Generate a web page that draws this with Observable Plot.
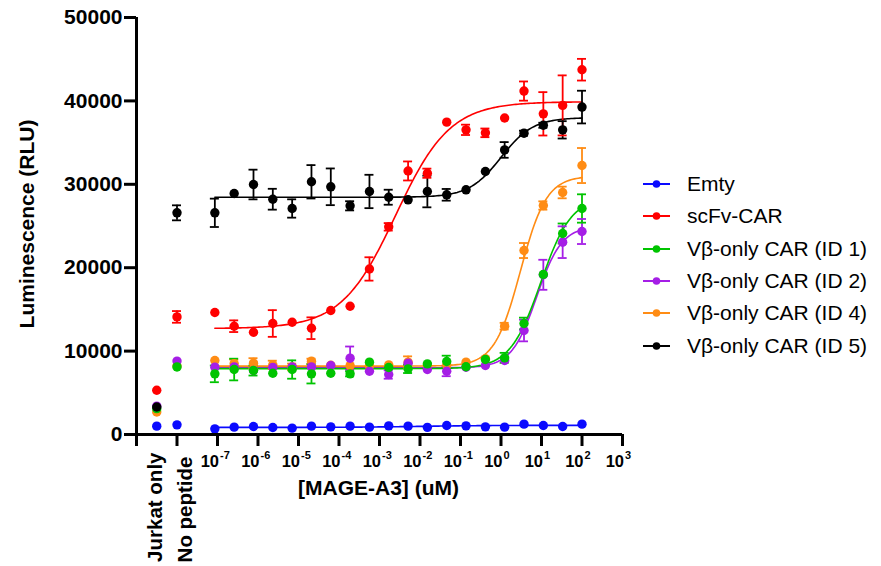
<!DOCTYPE html>
<html><head><meta charset="utf-8">
<script src="https://cdn.jsdelivr.net/npm/d3@7"></script>
<script src="https://cdn.jsdelivr.net/npm/@observablehq/plot@0.6"></script>
<style>
body{margin:0;background:#fff;}
#wrap{position:relative;width:881px;height:566px;font-family:"Liberation Sans",Arial,sans-serif;}
#legend{position:absolute;left:640px;top:168px;font-size:21px;color:#000;}
#legend .row{height:32.3px;display:flex;align-items:center;}
#legend svg{margin-right:14px;}
</style></head><body><div id="wrap"><div id="legend"></div></div>
<script>
// ---- data ----
const seriesNames = ["Emty", "scFv-CAR", "V\u03b2-only CAR (ID 1)", "V\u03b2-only CAR (ID 2)", "V\u03b2-only CAR (ID 4)", "V\u03b2-only CAR (ID 5)"];
const seriesColors = ["#0a0aff", "#ff0000", "#00c400", "#a51ee6", "#ff8c14", "#000000"];
// MAGE-A3 concentrations (uM), 3-fold dilution series, ascending
const conc = [8.6e-8, 2.58e-7, 7.74e-7, 2.32e-6, 6.97e-6, 2.09e-5, 6.27e-5, 1.88e-4, 5.65e-4, 1.69e-3, 5.08e-3, 0.0152, 0.0457, 0.137, 0.412, 1.23, 3.70, 11.1, 33.3, 100];
const emty    = [680, 880, 960, 840, 760, 1000, 920, 1000, 880, 1040, 1000, 860, 1080, 1040, 920, 880, 1240, 1080, 960, 1240];
const emtyErr = [0,0,0,0,0,0,0,0,0,0,0,0,0,0,0,0,0,0,0,0];
const scfv    = [14630, 12985, 12266, 13310, 13465, 12745, 14870, 15380, 19850, 24900, 31600, 31330, 37450, 36530, 36170, 37950, 41180, 38450, 39460, 43740];
const scfvErr = [0, 700, 0, 1600, 0, 1300, 0, 0, 1400, 450, 1140, 550, 0, 620, 520, 0, 1150, 2600, 3600, 1300];
const id1     = [7270, 7790, 7670, 7350, 7790, 7270, 7350, 7270, 8670, 8030, 7870, 8470, 8750, 8120, 8990, 9190, 13310, 19180, 24100, 27100];
const id1Err  = [1000, 1300, 600, 0, 1100, 1150, 0, 300, 0, 0, 500, 0, 700, 0, 0, 600, 700, 0, 1200, 1700];
const id2     = [8070, 8100, 7670, 8050, 8100, 8100, 8270, 9150, 7590, 7190, 8550, 7790, 7590, 8070, 8270, 8870, 12470, 19150, 23060, 24340];
const id2Err  = [0, 0, 0, 0, 0, 0, 0, 1400, 0, 500, 0, 0, 600, 0, 0, 0, 1300, 1800, 1900, 1500];
const id4     = [8870, 8500, 8550, 8350, 8100, 8790, 8300, 8250, 8200, 8350, 8670, 8300, 8300, 8670, 9100, 12990, 22060, 27460, 29020, 32250];
const id4Err  = [0, 500, 600, 500, 400, 300, 0, 0, 0, 0, 700, 0, 0, 0, 0, 400, 900, 500, 700, 2100];
const id5     = [26580, 28900, 29975, 28210, 27100, 30300, 29700, 27420, 29140, 28450, 28140, 29140, 28740, 29340, 31530, 34120, 36130, 37080, 36530, 39260];
const id5Err  = [1700, 0, 1780, 1250, 1100, 2000, 2200, 550, 2000, 900, 0, 1900, 700, 0, 0, 940, 300, 300, 1040, 1960];
// control columns: Jurkat only, No peptide (series order as seriesNames)
const controlLabels = ["Jurkat only", "No peptide"];
const jurkatOnly    = [1000, 5300, 3100, 3400, 2700, 3300];
const jurkatOnlyErr = [0, 0, 0, 0, 0, 0];
const noPeptide     = [1160, 14100, 8100, 8800, 8200, 26580];
const noPeptideErr  = [0, 700, 0, 0, 0, 900];
// 4-parameter logistic fit parameters (series order as seriesNames)
const fitBottom = [850, 12700, 7900, 8000, 8200, 28450];
const fitTop    = [1100, 39900, 28500, 25000, 31000, 38000];
const fitLogEC50 = [-2.0, -2.6, 0.98, 0.88, 0.48, 0.0];
const fitHill   = [0.5, 0.65, 1.15, 1.4, 1.35, 1.1];
const yTicks = [0, 10000, 20000, 30000, 40000, 50000];
const xTickExps = [-7, -6, -5, -4, -3, -2, -1, 0, 1, 2, 3];
const yLabel = "Luminescence (RLU)";
const xLabel = "[MAGE-A3] (uM)";

// ---- build ----
const values = [emty, scfv, id1, id2, id4, id5];
const errs = [emtyErr, scfvErr, id1Err, id2Err, id4Err, id5Err];
const controlPos = [-8.5, -8];
const drawOrder = [0, 1, 4, 3, 2, 5];
const rows = [];
for (const s of drawOrder) {
  rows.push({s: seriesNames[s], x: controlPos[0], y: jurkatOnly[s], e: jurkatOnlyErr[s]});
  rows.push({s: seriesNames[s], x: controlPos[1], y: noPeptide[s], e: noPeptideErr[s]});
  conc.forEach((c, i) => rows.push({s: seriesNames[s], x: Math.log10(c), y: values[s][i], e: errs[s][i]}));
}
const errRows = rows.filter(d => d.e > 0);
const curveRows = [];
const lo = Math.log10(conc[0]), hi = Math.log10(conc[conc.length - 1]);
for (const s of drawOrder) {
  for (let k = 0; k <= 200; k++) {
    const lx = lo + (hi - lo) * k / 200;
    const yv = fitBottom[s] + (fitTop[s] - fitBottom[s]) / (1 + Math.pow(10, (fitLogEC50[s] - lx) * fitHill[s]));
    curveRows.push({s: seriesNames[s], x: lx, y: yv});
  }
}
const cap = 4.5 / 40.5;
const font = "Liberation Sans, Arial, sans-serif";

const chart = Plot.plot({
  width: 881, height: 566,
  marginLeft: 136, marginRight: 259, marginTop: 17, marginBottom: 132,
  style: {fontFamily: font, background: "white", overflow: "visible"},
  x: {domain: [-9, 3], axis: null},
  y: {domain: [0, 50000], axis: null},
  color: {domain: seriesNames, range: seriesColors},
  marks: [
    Plot.line(curveRows, {x: "x", y: "y", z: "s", stroke: "s", strokeWidth: 1.6}),
    Plot.ruleX(errRows, {x: "x", y1: d => d.y - d.e, y2: d => d.y + d.e, stroke: "s", strokeWidth: 1.8}),
    Plot.ruleY(errRows, {y: d => d.y - d.e, x1: d => d.x - cap, x2: d => d.x + cap, stroke: "s", strokeWidth: 1.8}),
    Plot.ruleY(errRows, {y: d => d.y + d.e, x1: d => d.x - cap, x2: d => d.x + cap, stroke: "s", strokeWidth: 1.8}),
    Plot.dot(rows, {x: "x", y: "y", r: 4.7, fill: "s"}),
    // axes
    Plot.axisY({ticks: yTicks, tickSize: 12, tickPadding: 2, strokeWidth: 3, tickFormat: d3.format("d"), fontSize: 21, fontWeight: "bold", label: null}),
    Plot.axisX({ticks: [-9, -8, ...xTickExps], tickSize: 12, strokeWidth: 3, tickFormat: () => "", label: null}),
    Plot.ruleX([-9], {y1: 0, y2: 50000, strokeWidth: 3}),
    Plot.ruleY([0], {x1: -9, x2: 3, strokeWidth: 3}),
    Plot.text(xTickExps, {x: d => d, y: 0, text: () => "10", dy: 27, dx: 1.5, textAnchor: "end", fontSize: 16.5, fontWeight: "bold"}),
    Plot.text(xTickExps, {x: d => d, y: 0, text: d => String(d), dy: 21, dx: 2.5, textAnchor: "start", fontSize: 11, fontWeight: "bold"}),
    Plot.text([controlLabels[0]], {x: controlPos[0], y: 0, text: d => d, rotate: -90, textAnchor: "end", dy: 18, dx: -1, fontSize: 20.5, fontWeight: "bold"}),
    Plot.text([controlLabels[1]], {x: controlPos[1], y: 0, text: d => d, rotate: -90, textAnchor: "end", dy: 22, dx: 8, fontSize: 20.5, fontWeight: "bold"}),
    Plot.text([xLabel], {frameAnchor: "bottom", text: d => d, dy: 60, dx: -1, fontSize: 21, fontWeight: "bold"}),
    Plot.text([yLabel], {frameAnchor: "left", text: d => d, rotate: -90, textAnchor: "middle", dx: -109, dy: -2, fontSize: 21, fontWeight: "bold"})
  ]
});
document.getElementById("wrap").prepend(chart);

// legend
const leg = d3.select("#legend");
seriesNames.forEach((n, i) => {
  const row = leg.append("div").attr("class", "row");
  const sv = row.append("svg").attr("width", 33).attr("height", 12);
  sv.append("line").attr("x1", 3).attr("x2", 30).attr("y1", 6).attr("y2", 6).attr("stroke", seriesColors[i]).attr("stroke-width", 2);
  sv.append("circle").attr("cx", 16.5).attr("cy", 6).attr("r", 3.8).attr("fill", seriesColors[i]);
  row.append("span").text(n);
});
</script>
</body></html>
